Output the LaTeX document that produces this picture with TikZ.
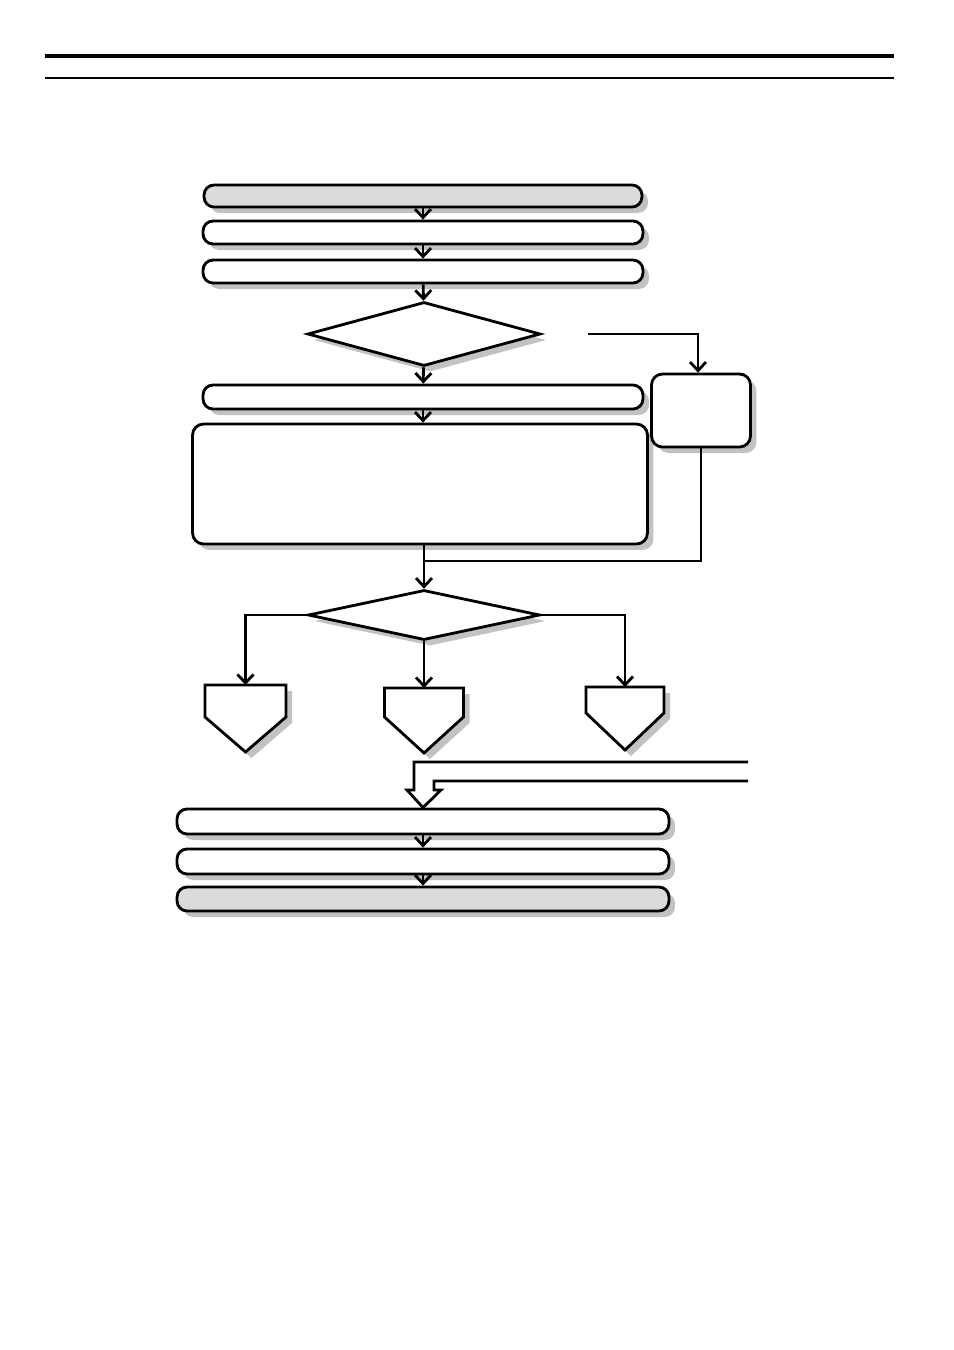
\documentclass[tikz,border=0pt]{standalone}
\usepackage{tikz}
\usetikzlibrary{arrows.meta,calc,positioning,shapes.geometric,shadows}

\newcommand{\homeplate}[5]{% x centre, top, half width, side bottom, point
  \draw[shape line,sh] (#1-#3,#2) -- (#1+#3,#2) -- (#1+#3,#4) -- (#1,#5)
    -- (#1-#3,#4) -- cycle;}

\begin{document}
\begin{tikzpicture}[x=0.02cm,y=-0.02cm,
  shape line/.style={draw=black,line width=1.6pt,fill=white},
  sh/.style={drop shadow={shadow xshift=0.12cm,shadow yshift=-0.12cm,
    fill=black!24,opacity=1}},
  pill/.style={shape line,sh,rectangle,rounded corners=0.2cm,inner sep=0pt},
  panel/.style={shape line,sh,rectangle,rounded corners=0.22cm,inner sep=0pt},
  decide/.style={shape line,sh,diamond,inner sep=0pt},
  arr/.style={line width=1.6pt,-{Straight Barb[length=1.7mm,width=3.2mm]}},
  link/.style={line width=1.6pt}]
  \useasboundingbox (0,0) rectangle (954,1350);

  % header rules
  \draw[line width=1.9pt] (45,56) -- (894,56);
  \draw[line width=1.2pt] (45,78) -- (894,78);

  % upper chain
  \node[pill,fill=black!14,minimum width=8.76cm,minimum height=0.44cm]
    (start) at (423,196) {};
  \node[pill,minimum width=8.8cm,minimum height=0.46cm] (read) at (423,232.5) {};
  \node[pill,minimum width=8.8cm,minimum height=0.46cm] (prep) at (423,271.5) {};
  \node[decide,minimum width=4.66cm,minimum height=1.28cm] (check) at (424,334) {};
  \node[pill,minimum width=8.8cm,minimum height=0.48cm] (setup) at (423,397) {};
  \node[panel,minimum width=9.1cm,minimum height=2.4cm] (work) at (420,484) {};
  \node[panel,minimum width=1.98cm,minimum height=1.46cm] (fix) at (701,410.5) {};
  \node[decide,minimum width=4.64cm,minimum height=1.0cm] (branch) at (424,615) {};

  \coordinate (nofrom) at (588,334);
  \coordinate (merge) at (424,561);
  \coordinate (pl) at (245.5,685);
  \coordinate (pm) at (424,688);
  \coordinate (pr) at (625,687);

  \draw[arr] (start) -- (read);
  \draw[arr] (read) -- (prep);
  \draw[arr] (prep) -- (check);
  \draw[arr] (check) -- (setup);
  \draw[arr] (setup) -- (work.north -| setup);
  \draw[arr] (nofrom) -| ([xshift=-0.06cm]fix.north);
  \draw[link] (fix) |- (merge);
  \draw[arr] (work.south -| branch) -- (branch);
  \draw[arr] (branch.west) -| (pl);
  \draw[arr] (branch) -- (pm);
  \draw[arr] (branch.east) -| (pr);

  % exits
  \homeplate{245.5}{685}{40.5}{717}{752}
  \homeplate{424}{688}{39.5}{717}{753}
  \homeplate{625}{687}{39}{713}{750}

  % lower chain
  \node[pill,minimum width=9.84cm,minimum height=0.5cm] (resume) at (423,821.5) {};
  \node[pill,minimum width=9.84cm,minimum height=0.5cm] (store) at (423,861.5) {};
  \node[pill,fill=black!14,minimum width=9.84cm,minimum height=0.48cm]
    (finish) at (423,899) {};
  \draw[arr] (resume) -- (store);
  \draw[arr] (store) -- (finish);

  % hollow entry arrow
  \draw[line width=1.6pt,fill=white,line join=miter]
    (748,762) -- (414,762) -- (414,790) -- (407,790) -- (resume.north)
    -- (441,790) -- (434,790) -- (434,781) -- (748,781);
\end{tikzpicture}
\end{document}
